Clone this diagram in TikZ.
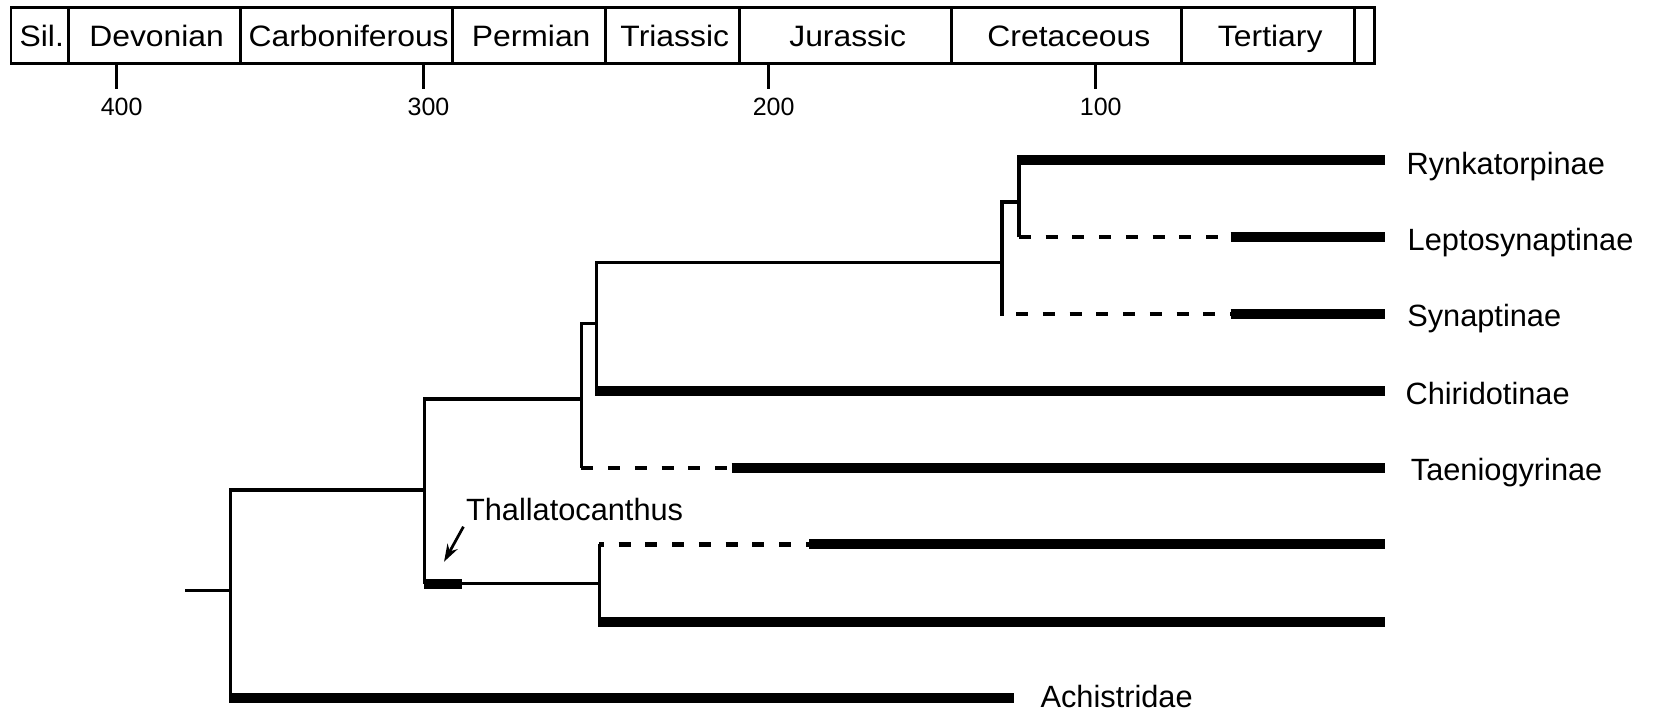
\documentclass[tikz,border=0pt]{standalone}
\usepackage{fontspec}
\setmainfont{Liberation Sans}
\newfontfamily\periodfont{Liberation Sans}[FakeStretch=1.08]
\usetikzlibrary{arrows.meta}

\begin{document}
\begin{tikzpicture}[
  x=0.4232pt, y=-0.4232pt,
  frame/.style={line width=1.1pt},
  branch/.style={line width=1.35pt},
  lineage/.style={line width=4pt, line cap=butt},
  ghost/.style={line width=1.7pt, dash pattern=on 4.8pt off 5.9pt},
  period/.style={anchor=base, inner sep=0pt, font=\periodfont\fontsize{11.8}{14}\selectfont},
  age/.style={anchor=base, inner sep=0pt, font=\fontsize{10}{12}\selectfont},
  taxon/.style={anchor=base west, inner sep=0pt, font=\fontsize{12.3}{14}\selectfont},
  pointer/.style={-{Stealth[length=7pt,width=4.6pt]}, line width=1.1pt}
]
\useasboundingbox (0,0) rectangle (1568,676);

% time scale
\draw[frame] (10.5,6.9) rectangle (1299,59.9);
\foreach \a/\b/\name [count=\i] in {10.5/64.5/Sil., 64.5/227.5/Devonian,
    227.5/427.5/Carboniferous, 427.5/572.5/Permian, 572.5/699/Triassic,
    699/899.5/Jurassic, 899.5/1117/Cretaceous, 1117/1280/Tertiary} {
  \draw[frame] (\b,6.9) -- (\b,59.9);
  \node[period] (period\i) at ({(\a+\b)/2+2},44) {\name};
}
\foreach \x/\mya in {110.3/400, 400.3/300, 726.5/200, 1035.7/100} {
  \draw[frame] (\x,59.9) -- (\x,84.4);
  \node[age] (age\mya) at (\x+4.7,109.5) {\mya};
}

% junctions
\coordinate (stem) at (175,558);
\coordinate (root) at (218,558);
\coordinate (crown) at (401,463);
\coordinate (upper) at (549.5,377);
\coordinate (chiri) at (564,306);
\coordinate (synap) at (947,248);
\coordinate (rynlep) at (963,191);
\coordinate (lower) at (566.5,551.5);
\coordinate (thalStart) at (401,551.5);
\coordinate (thalEnd) at (436.5,551.5);
\coordinate (thalTip) at (419.7,530.9);

% range tips and first appearances
\coordinate (rynTip) at (1309,151.5);
\coordinate (lepTip) at (1309,224.3);
\coordinate (synTip) at (1309,297);
\coordinate (chiTip) at (1309,369.7);
\coordinate (taeTip) at (1309,442.3);
\coordinate (xTip) at (1309,514.5);
\coordinate (yTip) at (1309,587.6);
\coordinate (achTip) at (958.4,660);
\coordinate (lepFad) at (1163,224.3);
\coordinate (synFad) at (1163,297);
\coordinate (taeFad) at (691.6,442.3);
\coordinate (xFad) at (765,514.5);

% taxa
\node[taxon] (ryn) at (1329,164.8) {Rynkatorpinae};
\node[taxon] (lep) at (1330,236.3) {Leptosynaptinae};
\node[taxon] (syn) at (1329.6,308.8) {Synaptinae};
\node[taxon] (chi) at (1328,382.2) {Chiridotinae};
\node[taxon] (tae) at (1333,454.3) {Taeniogyrinae};
\node[taxon] (ach) at (983,669) {Achistridae};
\node[taxon] (thal) at (440,491.5) {Thallatocanthus};

% tree
\draw[branch] (stem) -- (root);
\draw[branch] (crown) -| ([yshift=-2pt]root |- achTip);
\draw[lineage] (root |- achTip) -- (achTip);

\draw[branch] (upper) -| (thalStart);
\draw[lineage] (thalStart) -- (thalEnd);
\draw[branch] (thalEnd) -- (lower);
\draw[branch] (lower |- xTip) -- ([yshift=-2pt]lower |- yTip);
\draw[ghost, dash phase=3pt] (lower |- xTip) -- (xFad);
\draw[lineage] (xFad) -- (xTip);
\draw[lineage] (lower |- yTip) -- (yTip);

\draw[branch] (chiri) -| (upper |- taeTip);
\draw[ghost] (upper |- taeTip) -- (taeFad);
\draw[lineage] (taeFad) -- (taeTip);

\draw[branch] (synap) -| ([yshift=-2pt]chiri |- chiTip);
\draw[lineage] (chiri |- chiTip) -- (chiTip);

\draw[branch] (rynlep) -| ([yshift=-0.8pt]synap |- synTip);
\draw[ghost, dash phase=5pt] (synap |- synTip) -- (synFad);
\draw[lineage] (synFad) -- (synTip);

\draw[branch] (rynlep |- lepTip) -- ([yshift=2pt]rynlep |- rynTip);
\draw[lineage] (rynlep |- rynTip) -- (rynTip);
\draw[ghost] (rynlep |- lepTip) -- (lepFad);
\draw[lineage] (lepFad) -- (lepTip);

\draw[pointer] ([shift={(-2,6.3)}]thal.base west) -- (thalTip);
\end{tikzpicture}
\end{document}
